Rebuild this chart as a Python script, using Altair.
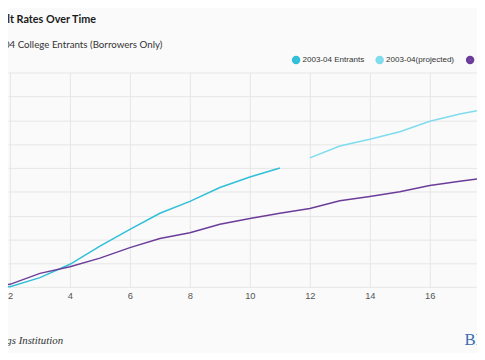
import altair as alt
import pandas as pd

# ---- data ----
years_entrants = list(range(1, 12))
entrants = [0.0, 0.1, 2.0, 4.8, 8.6, 12.1, 15.5, 18.0, 20.9, 23.1, 25.0]

years_projected = list(range(12, 21))
projected = [27.1, 29.6, 31.0, 32.6, 34.8, 36.3, 37.5, 38.4, 39.2]

years_9596 = list(range(1, 21))
cohort_9596 = [0.1, 0.6, 2.9, 4.3, 6.1, 8.3, 10.2, 11.4, 13.2, 14.4,
               15.5, 16.5, 18.1, 19.0, 20.0, 21.3, 22.2, 23.0, 23.6, 24.2]

series_names = ["2003-04 Entrants", "2003-04(projected)", "1995-96 Entrants"]
series_colors = ["#2fbfd8", "#7fdcee", "#6b3d9a"]

x_ticks = [2, 4, 6, 8, 10, 12, 14, 16]
y_ticks = [0, 5, 10, 15, 20, 25, 30, 35, 40, 45]

title_text = "Cumulative Default Rates Over Time"
subtitle_text = "1995-96 and 2003-04 College Entrants (Borrowers Only)"
source_text = "Source: Judith Scott-Clayton, Brookings Institution"
logo_text = "BROOKINGS"

rows = []
for y, v in zip(years_entrants, entrants):
    rows.append({"year": y, "rate": v, "series": series_names[0]})
for y, v in zip(years_projected, projected):
    rows.append({"year": y, "rate": v, "series": series_names[1]})
for y, v in zip(years_9596, cohort_9596):
    rows.append({"year": y, "rate": v, "series": series_names[2]})
df = pd.DataFrame(rows)

W = 477
H = 218.3

lines = alt.Chart(df).mark_line(strokeWidth=1.5).encode(
    x=alt.X("year:Q",
            scale=alt.Scale(domain=[1.934, 17.574], nice=False, zero=False),
            axis=alt.Axis(values=x_ticks, title=None, labelFontSize=9.5,
                          labelColor="#555555", labelFont="Liberation Sans",
                          domain=False, ticks=False, labelPadding=4,
                          grid=True, gridColor="#e6e6e6", gridWidth=1,
                          labelFlush=False)),
    y=alt.Y("rate:Q",
            scale=alt.Scale(domain=[0, 45], nice=False),
            axis=alt.Axis(values=y_ticks, labels=False, ticks=False,
                          domain=False, title=None, grid=True,
                          gridColor="#e6e6e6", gridWidth=1)),
    color=alt.Color("series:N",
                    scale=alt.Scale(domain=series_names, range=series_colors),
                    legend=alt.Legend(orient="none", direction="horizontal",
                                      legendX=288.5, legendY=-17.5,
                                      title=None, symbolType="circle",
                                      symbolSize=16, symbolStrokeWidth=4.6,
                                      symbolOpacity=1, columns=3,
                                      values=series_names,
                                      labelFontSize=8.2, labelFont="Liberation Sans",
                                      labelColor="#333333", columnPadding=4,
                                      labelOffset=2, padding=0)),
)

def label(text, x, y, size, weight="normal", style="normal", color="#222222",
          font="Liberation Sans", align="left"):
    return alt.Chart(pd.DataFrame({"t": [text]})).mark_text(
        align=align, baseline="alphabetic", fontSize=size, fontWeight=weight,
        fontStyle=style, color=color, font=font,
    ).encode(text="t:N", x=alt.value(x), y=alt.value(y))

title = label(title_text, 89.5, -50.5, 11, weight="bold", font="Lato",
              align="right", color="#1a1a1a")
subtitle = label(subtitle_text, 157, -25.2, 9.9, font="Lato",
                 align="right", color="#333333")
source = label(source_text, 56, 275.8, 11, style="italic",
               font="Liberation Serif", align="right", color="#333333")
logo = label(logo_text, 464.3, 276.6, 17, font="Liberation Serif",
             align="left", color="#3c6cb3")

chart = alt.layer(lines, title, subtitle, source, logo).properties(
    width=W, height=H,
    autosize=alt.AutoSizeParams(type="none"),
    padding={"left": 0, "top": 62.7, "right": 0, "bottom": 64},
    background="#fafafa",
).configure_view(stroke=None)

chart.save("out.html", embed_options={"renderer": "svg", "actions": False})
